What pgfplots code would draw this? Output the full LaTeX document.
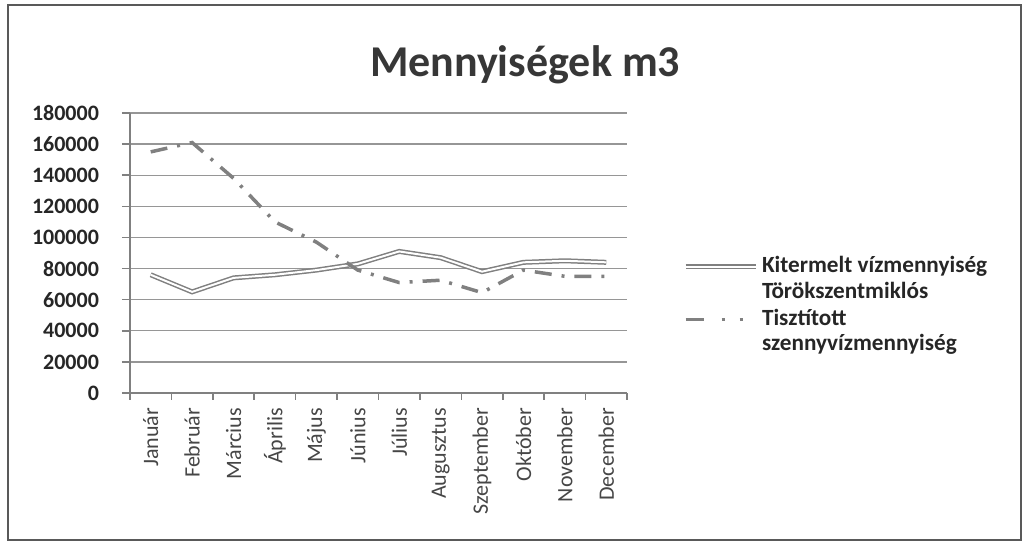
\documentclass[border=0pt]{standalone}
\usepackage{pgfplots}
\pgfplotsset{compat=1.18}
\usepackage{fontspec}
\setmainfont{Carlito}
\definecolor{linegray}{RGB}{128,128,128}
\definecolor{gridgray}{RGB}{150,150,150}
\definecolor{textgray}{RGB}{70,70,70}
\definecolor{titlegray}{RGB}{55,55,55}

\begin{document}
\begin{tikzpicture}
\begin{axis}[
    at={(0pt,0pt)}, anchor=south west,
    scale only axis, width=248.5pt, height=140pt,
    xmin=-0.5, xmax=11.5, ymin=0, ymax=180000,
    axis x line*=bottom, axis y line*=left,
    axis line style={linegray, line width=0.8pt},
    tick align=outside,
    xtick={0,...,11},
    xticklabels={Január,Február,Március,Április,Május,Június,Július,Augusztus,Szeptember,Október,November,December},
    major x tick style={draw=none},
    minor xtick={-0.5,0.5,...,11.5},
    minor x tick style={linegray, line width=0.8pt},
    minor tick length=3.5pt,
    x tick label style={rotate=90, anchor=east, text=textgray, font=\fontsize{11}{13}\selectfont},
    ytick={0,20000,...,180000},
    scaled y ticks=false,
    major tick length=4pt,
    y tick style={linegray, line width=0.8pt},
    y tick label style={font=\bfseries\fontsize{11}{13}\selectfont, text=black!85, xshift=-8pt},
    /pgf/number format/fixed,
    /pgf/number format/1000 sep={},
    /pgf/number format/assume math mode=true,
    ymajorgrids, grid style={gridgray, line width=0.7pt},
    title={Mennyiségek m3},
    title style={at={(0.795,1)}, anchor=center, yshift=18pt, font=\bfseries\fontsize{22}{26}\selectfont, text=titlegray},
    legend style={at={(1.1127,0.4946)}, anchor=north west, draw=none, fill=none,
        inner sep=0pt, outer sep=0pt, row sep=16pt, column sep=2pt,
        nodes={inner sep=0pt}, cells={anchor=base west},
        font=\bfseries\fontsize{11.6}{12.8}\selectfont, text=black!85},
]
\addplot[linegray, line width=0.75pt, double=white, double distance=1pt, forget plot]
coordinates {
(0,76000) (1,65000) (2,74000) (3,76000) (4,79000) (5,83000)
(6,91000) (7,87000) (8,78000) (9,84000) (10,85000) (11,84000)
};
\addplot[linegray, line width=1.75pt, dash pattern=on 8.5pt off 5pt on 1.5pt off 5pt, forget plot]
coordinates {
(0,155000) (1,161000) (2,138000) (3,110000) (4,97000) (5,79000)
(6,71000) (7,72500) (8,64500) (9,79000) (10,75000) (11,75000)
};
\addlegendimage{legend image code/.code={\draw[linegray, line width=0.75pt, double=white, double distance=1pt] (0pt,2.8pt) -- (35pt,2.8pt);}}
\addlegendentry{\begin{tabular}[t]{@{}l@{}}Kitermelt vízmennyiség\\Törökszentmiklós\end{tabular}}
\addlegendimage{legend image code/.code={\draw[linegray, line width=1.75pt, dash pattern=on 9pt off 9pt on 1.5pt off 7.5pt on 1.5pt off 20pt] (0pt,2.8pt) -- (35pt,2.8pt);}}
\addlegendentry{\begin{tabular}[t]{@{}l@{}}Tisztított\\szennyvízmennyiség\end{tabular}}
\end{axis}
\draw[black!65, line width=0.9pt] (-61pt,-73.5pt) rectangle (445.5pt,194pt);
\pgfresetboundingbox
\path (-65pt,-78pt) rectangle (449pt,196.5pt);
\end{tikzpicture}
\end{document}
